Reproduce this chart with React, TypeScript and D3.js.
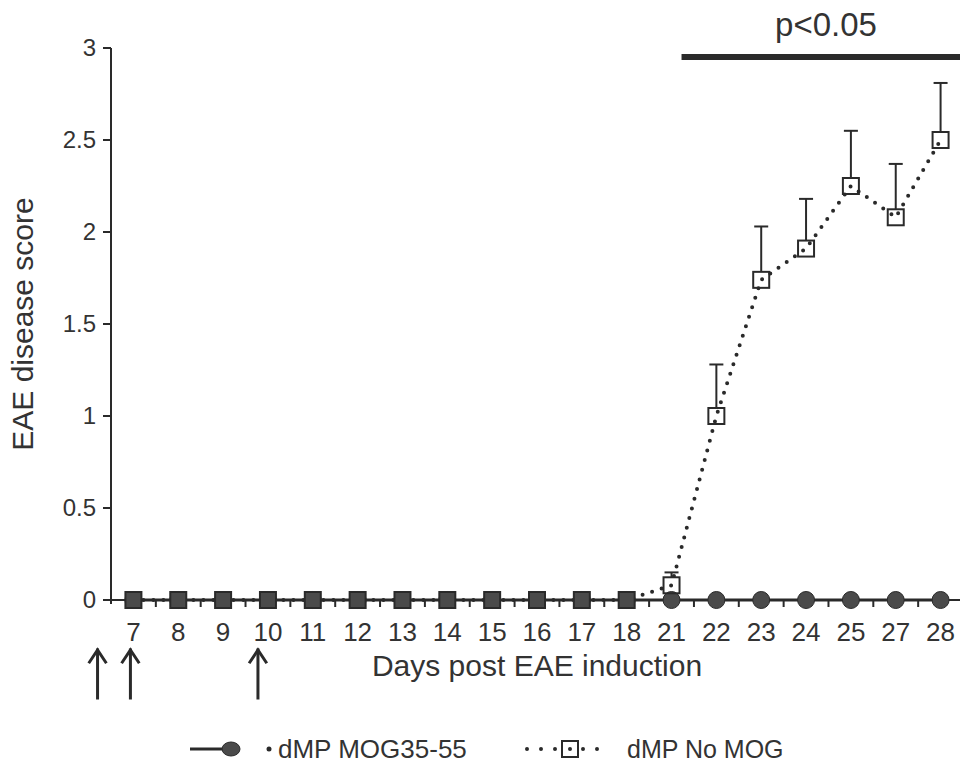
import React from "react";
import * as d3 from "d3";

const days = ["7", "8", "9", "10", "11", "12", "13", "14", "15", "16", "17", "18", "21", "22", "23", "24", "25", "27", "28"];
const mogValues = [0, 0, 0, 0, 0, 0, 0, 0, 0, 0, 0, 0, 0, 0, 0, 0, 0, 0, 0];
const noMogValues = [0, 0, 0, 0, 0, 0, 0, 0, 0, 0, 0, 0, 0.08, 1.0, 1.74, 1.91, 2.25, 2.08, 2.5];
const noMogErr = [0, 0, 0, 0, 0, 0, 0, 0, 0, 0, 0, 0, 0.07, 0.28, 0.29, 0.27, 0.3, 0.29, 0.31];
const yTicks = [0, 0.5, 1, 1.5, 2, 2.5, 3];
const arrowDays = ["6", "7", "10"];
const sigStartDay = "21";

const W = 960;
const H = 771;
const INK = "#2a2a2a";
const FILL = "#4a4a4a";
const TXT = "#333";
const FONT = "'Liberation Sans', Arial, sans-serif";

export default function App() {
  const x = d3.scaleBand().domain(days).range([111, 963]);
  const bw = x.bandwidth();
  const cx = (d: string) => (x(d) as number) + bw / 2;
  const y = d3.scaleLinear().domain([0, 3]).range([600, 48]);
  const fmt = (v: number) => String(v);

  const line = d3.line<number>().x((_, i) => cx(days[i])).y((v) => y(v));

  const arrowX = (d: string) => {
    if (d === "6") return cx("7") - bw * 0.8;
    return cx(d) - 3 - (d === "10" ? 7 : 0);
  };

  return (
    <svg width={W} height={H} style={{ display: "block", position: "absolute", left: 0, top: 0 }} fontFamily={FONT}>
      <rect width={W} height={H} fill="#fff" />
      {/* Y axis */}
      <line x1={111} x2={111} y1={y(3)} y2={y(0) + 4} stroke={INK} strokeWidth={2} />
      {yTicks.map((t) => (
        <g key={t}>
          <line x1={103} x2={111} y1={y(t)} y2={y(t)} stroke={INK} strokeWidth={2} />
          <text x={96} y={y(t)} dy="0.35em" textAnchor="end" fontSize={24} fill={TXT}>
            {fmt(t)}
          </text>
        </g>
      ))}
      <text
        transform={`translate(33,${(y(0) + y(3)) / 2}) rotate(-90)`}
        textAnchor="middle"
        fontSize={30}
        fill={TXT}
      >
        EAE disease score
      </text>
      {/* X axis */}
      <line x1={103} x2={W} y1={y(0)} y2={y(0)} stroke={INK} strokeWidth={2} />
      {days.slice(1).map((d) => (
        <line key={"t" + d} x1={x(d) as number} x2={x(d) as number} y1={y(0)} y2={y(0) + 7} stroke={INK} strokeWidth={2} />
      ))}
      {days.map((d) => (
        <text key={"l" + d} x={cx(d)} y={641} textAnchor="middle" fontSize={26} fill={TXT}>
          {d}
        </text>
      ))}
      <text x={537} y={676} textAnchor="middle" fontSize={30} fill={TXT}>
        Days post EAE induction
      </text>
      {/* arrows */}
      {arrowDays.map((d) => {
        const ax = arrowX(d);
        return (
          <g key={"a" + d} stroke={INK} strokeWidth={3} fill="none" strokeLinecap="square">
            <line x1={ax} x2={ax} y1={698} y2={650} />
            <path d={`M${ax - 8},${662} L${ax},${650} L${ax + 8},${662}`} />
          </g>
        );
      })}
      {/* significance bar */}
      <line x1={cx(sigStartDay) + 10} x2={W} y1={57} y2={57} stroke={INK} strokeWidth={6} />
      <text x={826} y={36} textAnchor="middle" fontSize={33} fill={TXT}>
        p&lt;0.05
      </text>
      {/* series 1 line */}
      <path d={line(mogValues) || ""} fill="none" stroke={INK} strokeWidth={3} />
      {/* series 2 dotted line */}
      <path
        d={line(noMogValues) || ""}
        fill="none"
        stroke={INK}
        strokeWidth={4}
        strokeDasharray="0 10"
        strokeLinecap="round"
      />
      {/* series 1 markers */}
      {mogValues.map((v, i) => (
        <circle key={"c" + i} cx={cx(days[i])} cy={y(v)} r={8.5} fill={FILL} stroke={INK} strokeWidth={1} />
      ))}
      {/* series 2 error bars */}
      {noMogValues.map((v, i) =>
        noMogErr[i] > 0 ? (
          <g key={"e" + i} stroke={INK} strokeWidth={2}>
            <line x1={cx(days[i])} x2={cx(days[i])} y1={y(v) - 8} y2={y(v + noMogErr[i])} />
            <line x1={cx(days[i]) - 7} x2={cx(days[i]) + 7} y1={y(v + noMogErr[i])} y2={y(v + noMogErr[i])} />
          </g>
        ) : null
      )}
      {/* series 2 markers */}
      {noMogValues.map((v, i) => (
        <rect
          key={"s" + i}
          x={cx(days[i]) - 8}
          y={y(v) - 8}
          width={16}
          height={16}
          fill={v === 0 ? FILL : "none"}
          stroke={INK}
          strokeWidth={2}
        />
      ))}
      {/* legend */}
      <g>
        <line x1={190} x2={226} y1={749} y2={749} stroke={INK} strokeWidth={3} />
        <ellipse cx={231} cy={749} rx={9} ry={7} fill={FILL} stroke={INK} />
        <circle cx={269} cy={749} r={2.5} fill={INK} />
        <text x={278} y={749} dy="0.35em" fontSize={26} fill={TXT}>
          dMP MOG35-55
        </text>
        <line x1={527} x2={611} y1={749} y2={749} stroke={INK} strokeWidth={4} strokeDasharray="0 14" strokeLinecap="round" />
        <rect x={562} y={741} width={16} height={16} fill="#fff" stroke={INK} strokeWidth={2} />
        <circle cx={570} cy={749} r={2} fill={INK} />
        <text x={627} y={749} dy="0.35em" fontSize={25} fill={TXT}>
          dMP No MOG
        </text>
      </g>
    </svg>
  );
}
